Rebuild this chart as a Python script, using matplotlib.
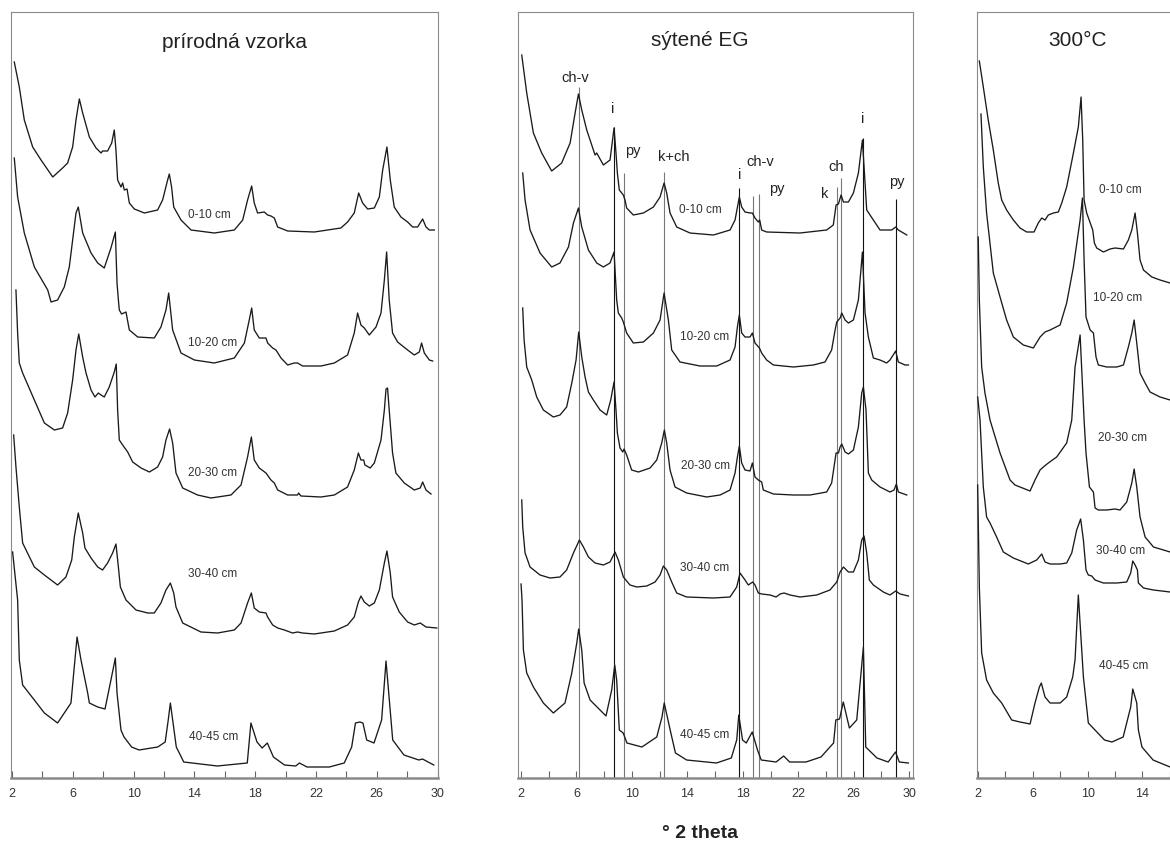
import matplotlib
matplotlib.use("Agg")
import matplotlib.pyplot as plt

plt.rcParams["font.family"] = ["Liberation Sans", "DejaVu Sans"]

# ---- x axis ----
TICKS = list(range(2, 31, 2))
TICK_LABELS = [str(t) if t % 4 == 2 else "" for t in TICKS]
# only the left part of the 300 °C panel is on the page
TICK_LABELS_CUT = [str(t) if t % 4 == 2 and t <= 14 else "" for t in TICKS]
DEPTHS = ["0-10 cm", "10-20 cm", "20-30 cm", "30-40 cm", "40-45 cm"]

# ---- prírodná vzorka: (2theta, intensity) ----
NAT_0_10 = [(2.15, 716), (2.48, 691), (2.81, 658), (3.36, 631), (3.91, 618), (4.68, 601), (5.33, 610), (5.66, 615),
            (5.99, 631), (6.21, 658), (6.43, 679), (6.65, 665), (7.09, 641), (7.53, 630), (7.86, 625), (7.96, 627),
            (8.29, 627), (8.56, 635), (8.73, 648), (8.84, 628), (8.95, 598), (9.17, 591), (9.28, 595), (9.39, 588),
            (9.57, 589), (9.72, 575), (10.05, 569), (10.71, 565), (11.58, 568), (11.91, 578), (12.24, 598),
            (12.35, 604), (12.50, 591), (12.64, 571), (13.12, 558), (13.78, 548), (15.31, 545), (16.63, 548),
            (17.18, 558), (17.50, 578), (17.77, 592), (17.94, 575), (18.16, 565), (18.60, 566), (18.82, 563),
            (19.04, 562), (19.26, 560), (19.48, 551), (20.14, 547), (21.89, 546), (23.64, 550), (24.08, 556),
            (24.52, 565), (24.81, 585), (25.07, 575), (25.40, 569), (25.84, 570), (26.17, 581), (26.39, 608),
            (26.67, 631), (26.89, 598), (27.15, 571), (27.59, 561), (28.03, 556), (28.36, 551), (28.69, 551),
            (29.02, 559), (29.24, 551), (29.46, 548), (29.79, 548)]
NAT_10_20 = [(2.15, 620), (2.37, 581), (2.81, 545), (3.47, 511), (4.35, 488), (4.57, 476), (5.0, 478), (5.44, 491),
             (5.77, 511), (5.99, 538), (6.21, 565), (6.36, 571), (6.65, 545), (7.20, 525), (7.64, 515), (8.07, 510),
             (8.51, 530), (8.80, 546), (8.91, 495), (9.00, 478), (9.06, 468), (9.21, 464), (9.50, 466), (9.72, 448),
             (10.27, 441), (11.36, 440), (11.80, 451), (12.13, 468), (12.31, 485), (12.57, 448), (13.12, 425),
             (14.00, 418), (15.31, 415), (16.63, 420), (17.29, 435), (17.61, 458), (17.77, 470), (17.94, 448),
             (18.27, 440), (18.71, 440), (18.82, 435), (19.15, 430), (19.37, 428), (19.70, 420), (20.14, 413),
             (20.57, 415), (20.79, 415), (21.12, 412), (22.33, 412), (23.21, 415), (24.08, 423), (24.52, 445),
             (24.74, 465), (24.96, 453), (25.18, 450), (25.51, 443), (25.95, 451), (26.28, 465), (26.50, 498),
             (26.65, 526), (26.82, 478), (27.04, 445), (27.37, 436), (28.03, 428), (28.47, 423), (28.80, 426),
             (28.95, 435), (29.13, 425), (29.46, 418), (29.68, 417)]
NAT_20_30 = [(2.26, 488), (2.37, 445), (2.48, 415), (2.70, 405), (3.47, 378), (4.13, 355), (4.79, 348), (5.33, 350),
             (5.66, 365), (5.99, 398), (6.21, 428), (6.39, 444), (6.65, 421), (6.87, 405), (7.20, 388), (7.46, 381),
             (7.68, 385), (7.86, 383), (8.07, 381), (8.40, 391), (8.73, 406), (8.86, 414), (8.95, 368), (9.06, 338),
             (9.28, 333), (9.61, 326), (9.94, 316), (10.49, 310), (11.04, 306), (11.58, 311), (11.91, 321),
             (12.13, 338), (12.37, 349), (12.57, 335), (12.79, 305), (13.23, 290), (14.21, 283), (15.09, 280),
             (16.41, 283), (17.07, 293), (17.50, 321), (17.75, 341), (17.94, 318), (18.27, 310), (18.71, 305),
             (19.04, 298), (19.26, 295), (19.48, 288), (20.14, 283), (20.79, 283), (20.86, 285), (21.01, 282),
             (22.33, 281), (23.21, 283), (24.08, 291), (24.52, 308), (24.79, 325), (24.96, 318), (25.14, 318),
             (25.22, 313), (25.57, 310), (25.84, 315), (26.28, 338), (26.50, 368), (26.61, 389), (26.71, 390),
             (26.82, 368), (27.04, 325), (27.26, 305), (27.81, 295), (28.47, 288), (28.86, 290), (29.02, 296),
             (29.24, 288), (29.57, 284)]
NAT_30_40 = [(2.11, 343), (2.26, 311), (2.48, 271), (2.70, 235), (3.47, 211), (4.13, 203), (5.00, 193), (5.55, 201),
             (5.93, 218), (6.10, 241), (6.36, 265), (6.65, 245), (6.80, 230), (7.20, 220), (7.64, 211), (7.96, 208),
             (8.29, 215), (8.62, 225), (8.84, 234), (9.00, 211), (9.13, 191), (9.50, 178), (10.16, 168),
             (10.93, 165), (11.36, 165), (11.80, 175), (12.13, 188), (12.42, 195), (12.64, 185), (12.79, 171),
             (13.23, 155), (14.43, 146), (15.53, 145), (16.63, 148), (17.07, 155), (17.50, 175), (17.75, 185),
             (17.94, 170), (18.27, 166), (18.71, 165), (18.82, 161), (19.15, 153), (19.48, 150), (19.92, 148),
             (20.46, 145), (20.79, 146), (21.12, 145), (21.89, 144), (23.21, 147), (24.08, 153), (24.52, 161),
             (24.79, 176), (24.96, 182), (25.18, 176), (25.51, 172), (25.84, 175), (26.17, 188), (26.50, 215),
             (26.67, 227), (26.89, 205), (27.04, 181), (27.48, 166), (28.03, 156), (28.47, 153), (28.86, 155),
             (29.24, 151), (29.95, 150)]
NAT_40_45 = [(2.04, 226), (2.37, 178), (2.48, 118), (2.70, 93), (3.47, 78), (4.13, 65), (5.00, 55), (5.88, 75),
             (6.06, 105), (6.28, 141), (6.54, 118), (6.98, 85), (7.09, 75), (7.64, 71), (8.12, 69), (8.51, 98),
             (8.80, 120), (8.91, 85), (9.17, 48), (9.37, 41), (9.87, 31), (10.36, 28), (11.59, 31), (12.08, 36),
             (12.28, 58), (12.42, 75), (12.66, 48), (12.81, 31), (13.30, 16), (15.51, 12), (17.48, 15), (17.72, 55),
             (18.12, 36), (18.46, 30), (18.80, 35), (19.20, 21), (19.93, 13), (20.67, 12), (20.91, 15), (21.41, 11),
             (22.88, 11), (23.86, 15), (24.35, 31), (24.60, 55), (24.89, 56), (25.09, 55), (25.34, 38), (25.82, 35),
             (26.32, 58), (26.61, 117), (27.05, 38), (27.79, 23), (28.77, 18), (29.01, 19), (29.75, 13)]

# ---- sýtené EG ----
EG_0_10 = [(2.05, 723), (2.41, 685), (2.89, 645), (3.49, 625), (4.21, 607), (4.93, 615), (5.54, 635), (5.90, 665),
           (6.14, 684), (6.38, 668), (6.74, 648), (7.22, 628), (7.34, 623), (7.46, 625), (7.94, 613), (8.42, 618),
           (8.71, 650), (8.85, 625), (8.95, 605), (9.09, 588), (9.38, 583), (9.50, 578), (9.62, 570), (10.10, 563),
           (10.83, 565), (11.55, 571), (12.03, 581), (12.32, 595), (12.51, 585), (12.75, 565), (13.23, 551),
           (14.19, 545), (15.88, 543), (17.08, 548), (17.44, 558), (17.75, 581), (17.92, 571), (18.16, 566),
           (18.52, 565), (18.69, 565), (18.88, 560), (19.12, 556), (19.22, 558), (19.36, 548), (19.72, 546),
           (22.13, 545), (24.05, 548), (24.53, 553), (24.73, 573), (24.90, 574), (25.09, 583), (25.26, 576),
           (25.62, 576), (25.98, 585), (26.34, 605), (26.63, 638), (26.82, 595), (26.94, 568), (27.42, 558),
           (27.90, 548), (28.26, 548), (28.74, 548), (29.03, 551), (29.22, 548), (29.83, 543)]
EG_10_20 = [(2.12, 605), (2.29, 578), (2.65, 548), (3.37, 525), (4.21, 511), (4.81, 515), (5.42, 531), (5.78, 555),
            (6.14, 570), (6.38, 551), (6.86, 528), (7.46, 515), (7.94, 511), (8.42, 515), (8.71, 526), (8.90, 478),
            (9.02, 465), (9.26, 460), (9.38, 456), (9.62, 445), (10.10, 435), (10.83, 436), (11.55, 445),
            (12.03, 458), (12.32, 485), (12.63, 458), (12.87, 428), (13.47, 416), (14.91, 412), (16.12, 412),
            (17.08, 418), (17.44, 431), (17.61, 451), (17.75, 463), (17.92, 445), (18.16, 441), (18.52, 441),
            (18.69, 445), (18.88, 435), (19.20, 430), (19.36, 425), (19.72, 418), (20.21, 413), (21.65, 411),
            (23.09, 413), (23.93, 416), (24.41, 428), (24.66, 448), (24.78, 456), (25.02, 460), (25.14, 465),
            (25.38, 458), (25.62, 455), (25.98, 458), (26.34, 478), (26.63, 526), (26.82, 465), (27.06, 441),
            (27.42, 420), (27.90, 418), (28.38, 415), (28.62, 418), (29.03, 427), (29.22, 416), (29.71, 413),
            (29.95, 413)]
EG_20_30 = [(2.12, 470), (2.22, 438), (2.41, 411), (2.77, 398), (3.13, 381), (3.61, 368), (4.33, 361), (4.81, 363),
            (5.29, 371), (5.66, 395), (5.97, 418), (6.16, 446), (6.38, 421), (6.62, 401), (6.86, 386), (7.22, 378),
            (7.70, 368), (8.18, 363), (8.47, 378), (8.71, 396), (8.85, 368), (8.95, 345), (9.14, 330), (9.34, 326),
            (9.43, 329), (9.62, 323), (9.98, 308), (10.47, 306), (11.31, 310), (11.79, 318), (12.15, 335),
            (12.34, 348), (12.51, 335), (12.75, 308), (13.11, 291), (13.95, 285), (15.40, 281), (16.36, 283),
            (17.08, 288), (17.44, 305), (17.61, 321), (17.75, 332), (17.92, 315), (18.16, 308), (18.52, 307),
            (18.69, 315), (18.88, 301), (19.12, 298), (19.36, 296), (19.48, 288), (20.21, 284), (21.65, 283),
            (22.85, 283), (24.05, 286), (24.41, 295), (24.73, 325), (24.90, 325), (25.02, 331), (25.14, 334),
            (25.38, 326), (25.62, 324), (25.98, 328), (26.34, 351), (26.58, 385), (26.70, 391), (26.89, 368),
            (27.06, 305), (27.30, 298), (27.90, 291), (28.62, 286), (28.91, 288), (29.08, 294), (29.22, 286),
            (29.83, 283)]
EG_30_40 = [(2.05, 278), (2.12, 251), (2.29, 225), (2.65, 211), (3.37, 203), (4.09, 200), (4.81, 201), (5.29, 208),
            (5.78, 225), (6.21, 238), (6.50, 231), (6.86, 221), (7.34, 215), (7.94, 213), (8.42, 216), (8.78, 226),
            (9.02, 218), (9.38, 201), (9.86, 193), (10.35, 191), (11.07, 192), (11.67, 196), (12.03, 203),
            (12.27, 212), (12.51, 208), (12.87, 196), (13.23, 185), (13.95, 181), (15.88, 180), (17.08, 181),
            (17.56, 191), (17.80, 205), (18.16, 198), (18.40, 193), (18.71, 196), (18.88, 193), (19.12, 185),
            (19.36, 184), (19.97, 183), (20.40, 181), (20.69, 184), (20.98, 185), (21.41, 183), (22.13, 181),
            (23.33, 183), (24.29, 188), (24.78, 196), (25.02, 206), (25.26, 211), (25.62, 206), (25.98, 206),
            (26.34, 218), (26.58, 238), (26.75, 242), (26.94, 225), (27.13, 198), (27.42, 193), (28.14, 186),
            (28.62, 183), (29.03, 187), (29.35, 184), (29.95, 182)]
EG_40_45 = [(2.00, 194), (2.07, 178), (2.17, 128), (2.41, 105), (2.89, 91), (3.61, 75), (4.33, 65), (5.17, 75),
            (5.66, 105), (6.02, 135), (6.16, 149), (6.38, 128), (6.55, 95), (6.98, 78), (7.70, 68), (8.13, 62),
            (8.54, 88), (8.76, 113), (8.90, 98), (9.09, 48), (9.37, 45), (9.64, 35), (10.72, 31), (11.79, 41),
            (12.17, 61), (12.33, 75), (12.76, 48), (13.14, 25), (13.95, 18), (16.10, 15), (17.17, 20), (17.56, 38),
            (17.71, 63), (17.98, 38), (18.25, 35), (18.68, 46), (19.06, 28), (19.33, 18), (20.40, 16), (20.95, 22),
            (21.38, 16), (22.56, 16), (23.64, 21), (24.55, 35), (24.71, 58), (24.98, 59), (25.25, 76), (25.69, 50),
            (26.22, 58), (26.70, 131), (26.87, 31), (27.68, 20), (28.49, 16), (29.02, 26), (29.29, 16), (29.95, 15)]

# ---- 300 °C (right part of the panel lies outside the page) ----
T300_0_10 = [(2.10, 717), (2.39, 691), (2.75, 658), (3.12, 628), (3.48, 595), (3.73, 578), (4.09, 568), (4.58, 558),
             (5.07, 550), (5.55, 546), (6.09, 546), (6.40, 555), (6.65, 560), (6.89, 558), (7.13, 563), (7.50, 565),
             (7.86, 566), (8.11, 575), (8.47, 591), (8.96, 625), (9.32, 651), (9.52, 681), (9.64, 638), (9.74, 578),
             (9.93, 565), (10.37, 548), (10.49, 535), (10.66, 530), (11.15, 526), (11.64, 529), (12.00, 530),
             (12.61, 529), (12.97, 538), (13.22, 548), (13.46, 565), (13.63, 545), (13.82, 518), (14.07, 508),
             (14.68, 501), (15.28, 498), (16.01, 495)]
T300_10_20 = [(2.22, 664), (2.39, 611), (2.63, 565), (3.12, 505), (3.61, 481), (4.09, 458), (4.58, 441), (5.31, 433),
              (6.04, 430), (6.53, 441), (6.89, 446), (7.26, 448), (7.99, 453), (8.47, 475), (8.96, 511), (9.45, 558),
              (9.62, 580), (9.74, 518), (9.88, 461), (10.18, 448), (10.42, 445), (10.61, 421), (10.78, 413),
              (11.39, 411), (12.12, 411), (12.61, 413), (12.97, 431), (13.22, 445), (13.39, 458), (13.58, 435),
              (13.82, 405), (14.19, 395), (14.55, 386), (15.28, 381), (16.01, 378)]
T300_20_30 = [(2.02, 541), (2.10, 478), (2.27, 411), (2.51, 385), (2.88, 358), (3.61, 325), (4.34, 298), (4.70, 293),
              (5.80, 287), (6.16, 298), (6.53, 308), (6.77, 311), (7.13, 315), (7.74, 321), (8.47, 335), (8.84, 358),
              (9.08, 411), (9.45, 443), (9.74, 358), (9.88, 325), (10.13, 291), (10.42, 286), (10.54, 270),
              (10.78, 268), (11.39, 268), (12.00, 269), (12.36, 268), (12.85, 276), (13.22, 295), (13.39, 309),
              (13.58, 291), (13.82, 261), (14.19, 241), (14.80, 231), (15.53, 228), (16.01, 226)]
T300_30_40 = [(1.98, 381), (2.15, 358), (2.39, 291), (2.63, 261), (2.88, 255), (3.36, 241), (3.85, 226), (4.58, 220),
              (5.67, 214), (6.28, 218), (6.65, 224), (6.89, 216), (7.26, 214), (7.99, 214), (8.47, 215), (8.84, 225),
              (9.20, 248), (9.49, 259), (9.69, 238), (9.88, 208), (10.05, 203), (10.30, 202), (10.54, 198),
              (11.15, 195), (12.12, 195), (12.85, 196), (13.14, 205), (13.29, 217), (13.46, 213), (13.63, 208),
              (13.70, 195), (14.07, 190), (14.80, 188), (16.01, 186)]
T300_40_45 = [(1.98, 293), (2.10, 191), (2.27, 125), (2.63, 98), (3.12, 85), (3.73, 75), (4.46, 58), (5.07, 56),
              (5.80, 54), (6.16, 75), (6.48, 91), (6.62, 95), (6.89, 81), (7.26, 75), (7.99, 75), (8.47, 81),
              (8.91, 101), (9.08, 118), (9.32, 183), (9.69, 101), (10.05, 55), (11.23, 38), (11.77, 36), (12.59, 41),
              (13.14, 71), (13.29, 89), (13.58, 75), (13.70, 48), (13.96, 31), (14.77, 18), (16.01, 11)]

# ---- mineral markers in the EG panel ----
MARK_POS = [6.15, 8.7, 9.4, 12.3, 17.75, 18.7, 19.2, 24.8, 25.1, 26.65, 29.05]
MARK_TOP = [691, 651, 605, 606, 590, 582, 584, 591, 600, 640, 579]
MARK_DARK = [False, True, False, False, True, False, False, False, False, True, True]
MARK_TEXT = ["ch-v", "i", "py", "k+ch", "i", "ch-v", "py", "k", "ch", "i", "py"]
MARK_TEXT_X = [5.90, 8.64, 10.08, 13.04, 17.80, 19.24, 20.47, 23.93, 24.73, 26.68, 29.13]
MARK_TEXT_Y = [700, 669, 627, 621, 603, 616, 589, 584, 611, 659, 596]

W, H = 1170, 849
AXIS_Y, TOP_Y = 778, 12
YMAX = AXIS_Y - TOP_Y


def panel(fig, left_px, width_px, xlim, traces, title, title_xy, label_xy, tick_labels=TICK_LABELS):
    ax = fig.add_axes([left_px / W, (H - AXIS_Y) / H, width_px / W, YMAX / H])
    for pts in traces:
        ax.plot([p[0] for p in pts], [p[1] for p in pts], color="#1a1a1a", lw=0.95,
                solid_joinstyle="round", zorder=3)
    for text, (lx, ly) in zip(DEPTHS, label_xy):
        ax.text(lx, ly, text, ha="center", va="center", fontsize=8.5, color="#333333")
    ax.text(title_xy[0], title_xy[1], title, ha="center", va="center", fontsize=15, color="#222222")
    ax.set_xlim(*xlim)
    ax.set_ylim(0, YMAX)
    ax.set_yticks([])
    ax.set_xticks(TICKS)
    ax.set_xticklabels(tick_labels)
    ax.tick_params(axis="x", direction="in", length=5, width=0.8, color="#666666",
                   labelsize=9, labelcolor="#333333", pad=7)
    for side in ("left", "right", "top"):
        ax.spines[side].set_color("#8a8a8a")
        ax.spines[side].set_linewidth(0.8)
    ax.spines["bottom"].set_color("#8a8a8a")
    ax.spines["bottom"].set_linewidth(1.8)
    return ax


fig = plt.figure(figsize=(W / 100, H / 100), dpi=100)

panel(fig, 11, 427, (1.934, 30.03), [NAT_0_10, NAT_10_20, NAT_20_30, NAT_30_40, NAT_40_45],
      "prírodná vzorka", (16.67, 735),
      [(14.96, 563), (15.22, 435), (15.22, 305), (15.22, 204), (15.28, 41)])

ax2 = panel(fig, 518, 395, (1.78, 30.28), [EG_0_10, EG_10_20, EG_20_30, EG_30_40, EG_40_45],
            "sýtené EG", (14.91, 738),
            [(14.91, 568), (15.28, 441), (15.28, 312), (15.28, 210), (15.28, 43)])
for x, top, dark in zip(MARK_POS, MARK_TOP, MARK_DARK):
    ax2.vlines(x, 0, top, color="#111111" if dark else "#777777", lw=0.8, zorder=2)
for text, x, y in zip(MARK_TEXT, MARK_TEXT_X, MARK_TEXT_Y):
    ax2.text(x, y, text, ha="center", va="center", fontsize=10.5, color="#222222")

panel(fig, 977, 389, (1.93, 30.3), [T300_0_10, T300_10_20, T300_20_30, T300_30_40, T300_40_45],
      "300°C", (9.23, 738),
      [(12.36, 588), (12.22, 480), (12.58, 340), (12.44, 227), (12.66, 112)],
      tick_labels=TICK_LABELS_CUT)

fig.text(700 / W, 1 - 833 / H, "° 2 theta", ha="center", va="center", fontsize=14,
         fontweight="bold", color="#222222")

fig.savefig("out.png", dpi=100)
